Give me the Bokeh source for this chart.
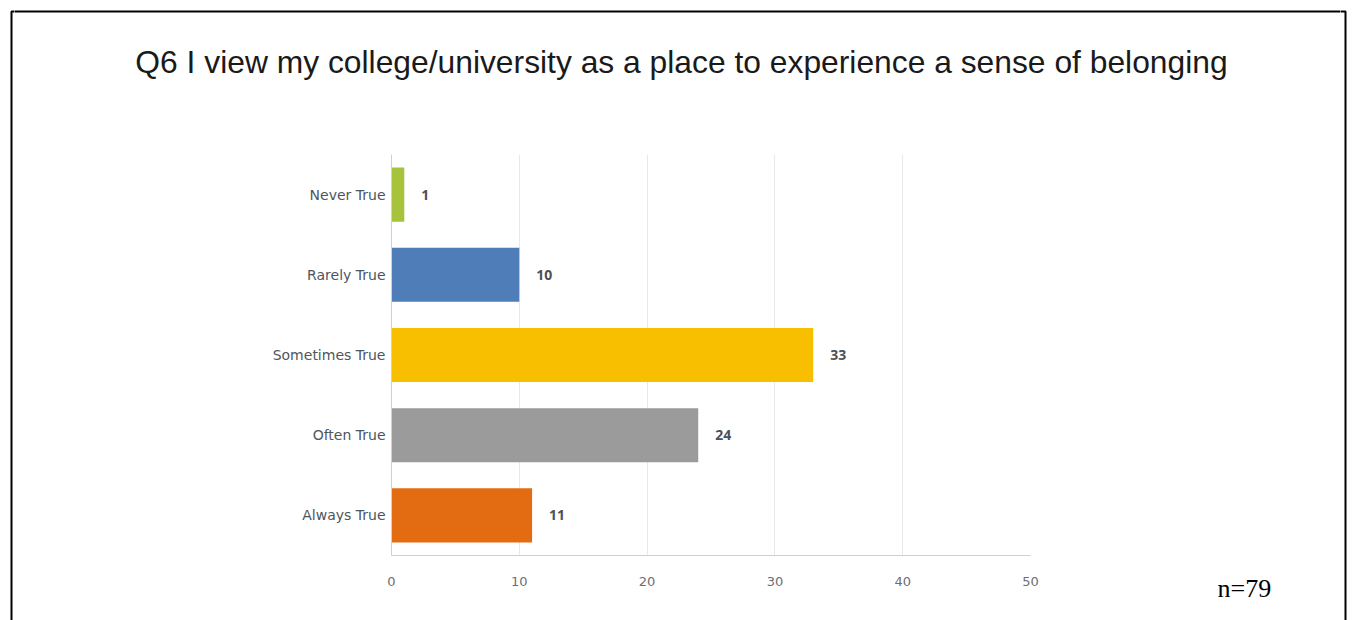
from bokeh.plotting import figure
from bokeh.layouts import column, row
from bokeh.models import ColumnDataSource, FactorRange, Range1d, Label, FixedTicker, BoxAnnotation
from bokeh.core.properties import value
from bokeh.embed import file_html
from bokeh.resources import INLINE

title_text = "Q6 I view my college/university as a place to experience a sense of belonging"
categories = ["Never True", "Rarely True", "Sometimes True", "Often True", "Always True"]
counts = [1, 10, 33, 24, 11]
colors = ["#a6c33b", "#4f7db7", "#f8bf00", "#9b9b9b", "#e36c12"]
x_ticks = [0, 10, 20, 30, 40, 50]
n_note = "n=79"

W, H = 1354, 620
TOP = 154            # height of title strip
SIDE_L = 14          # left full-height strip width
SIDE_R = 14          # right full-height strip width
CHART_R = 1042       # right edge of chart figure (page px)
MID_W = W - SIDE_L - SIDE_R


def blank(width, height, xr, yr):
    f = figure(width=width, height=height, output_backend="svg", toolbar_location=None,
               x_range=Range1d(*xr), y_range=Range1d(*yr), x_axis_type=None, y_axis_type=None,
               min_border=0, frame_align=False)
    f.outline_line_color = None
    f.background_fill_color = "white"
    f.border_fill_color = "white"
    return f


def border_box(f):
    f.add_layout(BoxAnnotation(left=11, right=1345, top=11, bottom=H + 100,
                               fill_alpha=0, line_color="black", line_alpha=1, line_width=2))


# --- full-height side strips (page pixel coordinates) ---
left = blank(SIDE_L, H, (0, SIDE_L), (H, 0))
border_box(left)
right = blank(SIDE_R, H, (W - SIDE_R, W), (H, 0))
border_box(right)

# --- title strip ---
top = blank(MID_W, TOP, (SIDE_L, W - SIDE_R), (TOP, 0))
border_box(top)
top.add_layout(Label(x=681, y=61, text=title_text, text_align="center", text_baseline="alphabetic",
                     text_font="Liberation Sans", text_font_size="31.8px", text_color="#1a1a1a"))

# --- chart ---
src = ColumnDataSource(dict(cat=categories, count=counts, color=colors,
                            label=[str(c) for c in counts]))
p = figure(width=CHART_R - SIDE_L, height=H - TOP, output_backend="svg", toolbar_location=None,
           y_range=FactorRange(*reversed(categories), range_padding=0),
           x_range=Range1d(0, 50),
           min_border_left=391 - SIDE_L, min_border_right=CHART_R - 1030,
           min_border_top=0, min_border_bottom=H - 555)
p.outline_line_color = None
p.background_fill_color = "white"
p.border_fill_color = "white"

p.hbar(y="cat", right="count", height=0.675, color="color", source=src, line_color=None)
p.text(x="count", y="cat", text="label", source=src, x_offset=17, text_baseline="middle",
       text_font=value("Open Sans"), text_font_style="bold", text_font_size="14px",
       text_color="#4d5158")

p.xaxis.ticker = FixedTicker(ticks=x_ticks)
p.xaxis.major_tick_line_color = None
p.xaxis.minor_tick_line_color = None
p.xaxis.axis_line_color = "#d0d0d0"
p.xaxis.major_label_standoff = 15
p.xaxis.major_label_text_font = "DejaVu Sans"
p.xaxis.major_label_text_font_size = "13px"
p.xaxis.major_label_text_color = "#6b6f75"

p.yaxis.major_tick_line_color = None
p.yaxis.minor_tick_line_color = None
p.yaxis.axis_line_color = "#d0d0d0"
p.yaxis.major_label_standoff = 0
p.yaxis.major_label_text_font = "DejaVu Sans"
p.yaxis.major_label_text_font_size = "14px"
p.yaxis.major_label_text_color = "#50555c"

p.xgrid.grid_line_color = "#e8e8e8"
p.ygrid.grid_line_color = None

# --- note strip to the right of the chart ---
note = blank(W - SIDE_R - CHART_R, H - TOP, (CHART_R, W - SIDE_R), (H, TOP))
note.add_layout(Label(x=1217, y=588, text=n_note, text_align="left", text_baseline="alphabetic",
                      text_font="Liberation Serif", text_font_size="26px", text_color="#000000"))

middle = column(top, row(p, note, spacing=0), spacing=0)
layout = row(left, middle, right, spacing=0)
open("out.html", "w").write(file_html(layout, INLINE))
